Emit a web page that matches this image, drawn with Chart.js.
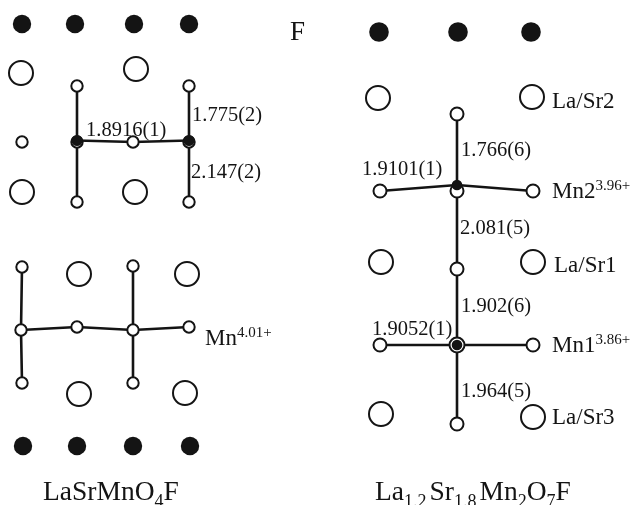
<!DOCTYPE html>
<html>
<head>
<meta charset="utf-8">
<script src="https://cdn.jsdelivr.net/npm/chart.js@4"></script>
<style>
  html, body { margin: 0; padding: 0; background: #fff; overflow: hidden; }
  canvas { display: block; }
</style>
</head>
<body>
<canvas id="grafico" width="631" height="505"></canvas>
<script>
// sites, in image units (y runs downward)
const fluorineLeft = [[22,24],[75,24],[134,24],[189,24],[23,446],[77,446],[133,446],[190,446]];
const fluorineRight = [[379,32],[458,32],[531,32]];
const laSr = [[21,73],[136,69],[22,192],[135,192],[79,274],[187,274],[79,394],[185,393],
              [378,98],[532,97],[381,262],[533,262],[381,414],[533,417]];
const oxygenLeft = [[77,86],[189,86],[22,142],[77,142],[133,142],[189,142],[77,202],[189,202],
                    [22,267],[133,266],[77,327],[189,327],[22,383],[133,383],[21,330],[133,330]];
const oxygenRight = [[457,114],[380,191],[457,191],[533,191],[457,269],[380,345],[533,345],[457,424]];
const oxygenMn1 = [[457,345]];
const manganese = [[77,140.5],[189,140.5]];
const manganeseRight = [[457,185],[457,345]];

const bonds = [
  [[77,86],[77,202]],
  [[189,86],[189,202]],
  [[77,140.5],[133,142],[189,140.5]],
  [[22,267],[21,330],[22,383]],
  [[133,266],[133,330],[133,383]],
  [[21,330],[77,327],[133,330],[189,327]],
  [[457,114],[457,424]],
  [[380,191],[457,185],[533,191]],
  [[380,345],[533,345]]
];

const distanceText = ["1.8916(1)","1.775(2)","2.147(2)","1.766(6)","1.9101(1)","2.081(5)","1.902(6)","1.9052(1)","1.964(5)"];
const distanceX = [86,192,191,461,362,460,461,372,461];
const distanceY = [136,121,178,156,175,234,312,335,397];

const siteText = ["La/Sr2","La/Sr1","La/Sr3"];
const siteX = [552,554,552];
const siteY = [108,272,424];

const valenceText = ["Mn","Mn2","Mn1"];
const valenceSup = ["4.01+","3.96+","3.86+"];
const valenceX = [205,552,552];
const valenceY = [345,198,352];

// formula runs: [text, is subscript]
const formulaLeft = [["LaSrMnO",0],["4",1],["F",0]];
const formulaRight = [["La",0],["1.2",1],["Sr",0],["1.8",1],["Mn",0],["2",1],["O",0],["7",1],["F",0]];
const formulaX = [43,375];
const formulaY = [500,500];

const FONT = '"Liberation Serif", "Times New Roman", serif';
const INK = '#141414';

function pts(list) {
  return list.map(p => ({ x: p[0], y: p[1] }));
}

function atoms(list, radius, fill, border, order) {
  return {
    type: 'scatter',
    data: pts(list),
    pointRadius: radius,
    pointHoverRadius: radius,
    pointBackgroundColor: fill,
    pointBorderColor: INK,
    pointBorderWidth: border,
    showLine: false,
    order: order
  };
}

const bondSets = bonds.map(b => ({
  type: 'line',
  data: pts(b),
  borderColor: INK,
  borderWidth: 2.6,
  pointRadius: 0,
  tension: 0,
  fill: false,
  order: 5
}));

// labels go through the same scales as the atoms
const textPlugin = {
  id: 'textos',
  afterDraw(chart) {
    const ctx = chart.ctx;
    const sx = chart.scales.x, sy = chart.scales.y;
    ctx.save();
    ctx.fillStyle = INK;
    ctx.textBaseline = 'alphabetic';
    ctx.textAlign = 'left';

    function put(t, x, y, size) {
      ctx.font = size + 'px ' + FONT;
      ctx.fillText(t, sx.getPixelForValue(x), sy.getPixelForValue(y));
      return ctx.measureText(t).width;
    }

    put("F", 290, 40, 27);
    distanceText.forEach((t, i) => put(t, distanceX[i], distanceY[i], 20.5));
    siteText.forEach((t, i) => put(t, siteX[i], siteY[i], 23));
    valenceText.forEach((t, i) => {
      const w = put(t, valenceX[i], valenceY[i], 23);
      put(valenceSup[i], valenceX[i] + w, valenceY[i] - 8, 15);
    });
    [formulaLeft, formulaRight].forEach((runs, i) => {
      let x = formulaX[i];
      runs.forEach(r => {
        if (r[1]) {
          // the long subscripts sit a bit looser in the original
          x += put(r[0], x, formulaY[i] + 7, 18) + (r[0].length > 1 ? 3 : 0);
        } else {
          x += put(r[0], x, formulaY[i], 27.5);
        }
      });
    });
    ctx.restore();
  }
};

new Chart(document.getElementById('grafico'), {
  type: 'scatter',
  data: {
    datasets: [
      atoms(manganese, 5.5, '#141414', 0, 1),
      atoms(manganeseRight, 5.3, '#141414', 0, 1),
      atoms(fluorineLeft, 9.2, '#141414', 0, 1),
      atoms(fluorineRight, 9.8, '#141414', 0, 1),
      atoms(laSr, 12, '#ffffff', 2, 2),
      atoms(oxygenLeft, 5.7, '#ffffff', 2, 2),
      atoms(oxygenRight, 6.5, '#ffffff', 2, 2),
      atoms(oxygenMn1, 7.5, '#ffffff', 2, 2)
    ].concat(bondSets)
  },
  options: {
    responsive: false,
    animation: false,
    layout: { padding: 0, autoPadding: false },
    events: [],
    scales: {
      x: { type: 'linear', display: false, min: 0, max: 631 },
      y: { type: 'linear', display: false, min: 0, max: 505, reverse: true }
    },
    plugins: {
      legend: { display: false },
      title: { display: false },
      tooltip: { enabled: false }
    }
  },
  plugins: [textPlugin]
});
</script>
</body>
</html>
